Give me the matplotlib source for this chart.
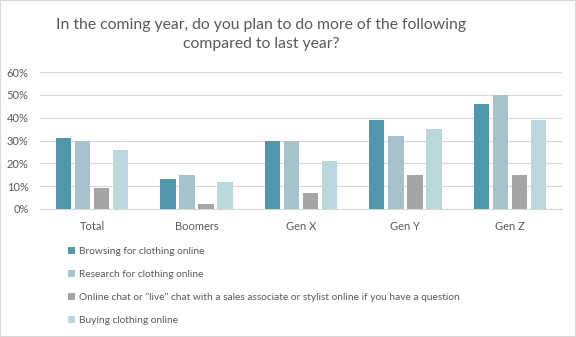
import numpy as np
import matplotlib.pyplot as plt
from matplotlib.patches import Rectangle

plt.rcParams['font.family'] = ['Lato', 'DejaVu Sans']

groups = ['Total', 'Boomers', 'Gen X', 'Gen Y', 'Gen Z']
series_names = ['Browsing for clothing online',
                'Research for clothing online',
                'Online chat or "live" chat with a sales associate or stylist online if you have a question',
                'Buying clothing online']
browsing = [31, 13, 30, 39, 46]
research = [30, 15, 30, 32, 50]
chat = [9, 2, 7, 15, 15]
buying = [26, 12, 21, 35, 39]
colors = ['#4F98AC', '#A6C3CB', '#A5A5A5', '#B9D7DD']

fig = plt.figure(figsize=(5.76, 3.37), dpi=100)
ax = fig.add_axes([0.069, 0.380, 0.907, 0.406])

x = np.arange(len(groups))
w = 0.145
step = 0.182
bars = []
for i, vals in enumerate([browsing, research, chat, buying]):
    b = ax.bar(x + (i - 1.5) * step, vals, w, color=colors[i], label=series_names[i], zorder=3)
    bars.append(b)

ax.set_xlim(-0.5, 4.5)
ax.set_ylim(0, 60)
ax.set_yticks(range(0, 61, 10))
ax.set_yticklabels([f'{v}%' for v in range(0, 61, 10)])
ax.set_xticks(x)
ax.set_xticklabels(groups)
ax.grid(axis='y', color='#D9D9D9', linewidth=0.8, zorder=0)
for s in ['top', 'right', 'left']:
    ax.spines[s].set_visible(False)
ax.spines['bottom'].set_color('#D9D9D9')
ax.tick_params(axis='both', length=0, colors='#595959', labelsize=8)
ax.tick_params(axis='y', pad=8)
ax.tick_params(axis='x', pad=9)

fig.text(0.453, 0.897, 'In the coming year, do you plan to do more of the following\ncompared to last year?',
         ha='center', va='center', fontsize=11.3, color='#595959', linespacing=1.45)

leg = fig.legend(handles=bars, labels=series_names, loc='upper left',
                 bbox_to_anchor=(0.118, 0.266), frameon=False, fontsize=7.3,
                 handlelength=0.7, handleheight=0.7, handletextpad=0.4,
                 labelspacing=1.35, borderaxespad=0, borderpad=0)
for t in leg.get_texts():
    t.set_color('#595959')

fig.patches.append(Rectangle((0, 0), 1, 1, transform=fig.transFigure, fill=False,
                             edgecolor='#D9D9D9', linewidth=1.5))

fig.savefig('out.png', dpi=100)
